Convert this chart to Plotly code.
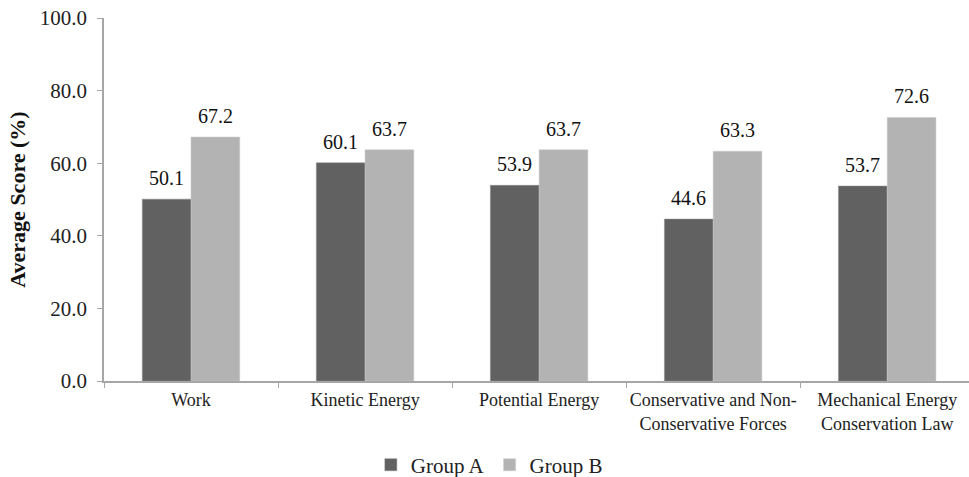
import plotly.graph_objects as go

categories = ["Work", "Kinetic Energy", "Potential Energy",
              "Conservative and Non-<br>Conservative Forces",
              "Mechanical Energy<br>Conservation Law"]
group_a = [50.1, 60.1, 53.9, 44.6, 53.7]
group_b = [67.2, 63.7, 63.7, 63.3, 72.6]
y_ticks = [0, 20, 40, 60, 80, 100]

font_family = "Liberation Serif"
BAR_SHIFT = 24.4  # half of one bar's pixel width

fig = go.Figure()
fig.add_trace(go.Bar(
    name="Group A", x=categories, y=group_a,
    marker=dict(color="#616161", line=dict(color="#8a8a8a", width=0.5)),
))
fig.add_trace(go.Bar(
    name="Group B", x=categories, y=group_b,
    marker=dict(color="#b3b3b3", line=dict(color="#c8c8c8", width=0.5)),
))

for series, shift in ((group_a, -BAR_SHIFT), (group_b, BAR_SHIFT)):
    for cat, v in zip(categories, series):
        fig.add_annotation(
            x=cat, y=v, text=f"{v:.1f}", showarrow=False,
            xshift=shift, yshift=8, yanchor="bottom", xanchor="center",
            font=dict(family=font_family, size=20, color="#111111"),
        )

fig.update_layout(
    width=969, height=477,
    margin=dict(l=104, r=0, t=18, b=96),
    paper_bgcolor="white", plot_bgcolor="white",
    barmode="group", bargap=0.44, bargroupgap=0,
    font=dict(family=font_family, size=18, color="#222222"),
    showlegend=True,
    legend=dict(orientation="h", xref="container", x=0.505, xanchor="center",
                yref="container", y=0.025, yanchor="middle",
                font=dict(family=font_family, size=21, color="#222222"),
                itemwidth=30, traceorder="normal"),
)
fig.update_xaxes(
    range=[-0.5, 4.47], showline=True, linecolor="#a6a6a6", linewidth=1.5,
    ticks="outside", tickson="boundaries", ticklen=5, tickcolor="#a6a6a6",
    tickfont=dict(family=font_family, size=18, color="#222222"),
    tickangle=0, automargin=False, ticklabelstandoff=2,
    showgrid=False, fixedrange=True,
)
fig.update_yaxes(
    range=[0, 100], tickvals=y_ticks, tickformat=".1f",
    showline=True, linecolor="#a6a6a6", linewidth=1.5,
    ticks="outside", ticklen=5, tickcolor="#a6a6a6",
    tickfont=dict(family=font_family, size=21, color="#222222"),
    ticklabelstandoff=6, automargin=False,
    showgrid=False, zeroline=False,
    title=dict(text="<b>Average Score (%)</b>", standoff=8,
               font=dict(family=font_family, size=22, color="#111111")),
)

fig.write_html("out.html")
